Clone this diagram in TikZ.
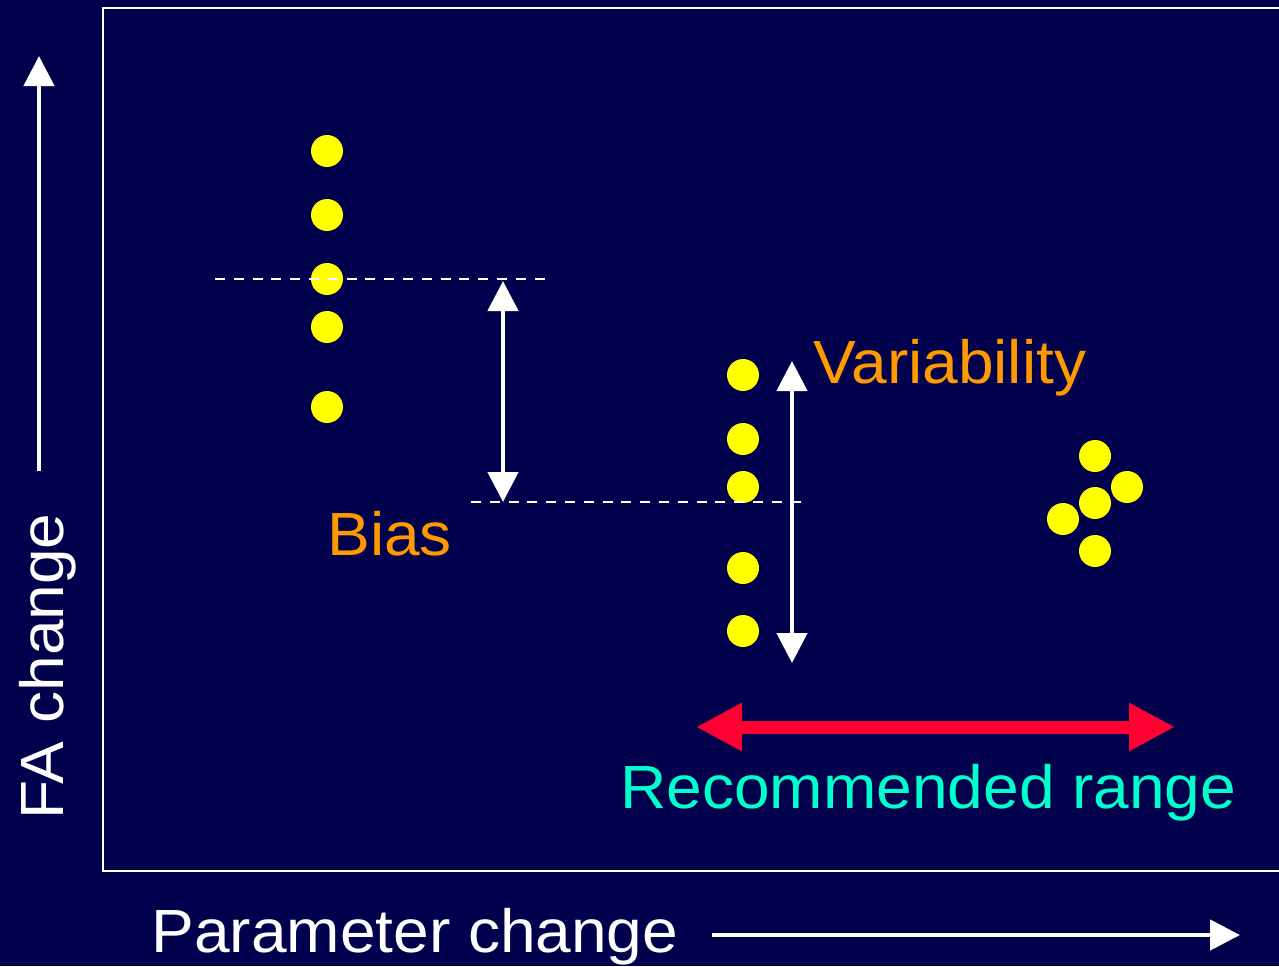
\documentclass[tikz,border=0pt]{standalone}
\usepackage{fontspec}
\setmainfont[FakeStretch=1.05]{Liberation Sans}
\usetikzlibrary{arrows.meta}

\definecolor{slidebg}{RGB}{0,0,77}
\definecolor{dotyellow}{RGB}{255,255,0}
\definecolor{textorange}{RGB}{255,153,0}
\definecolor{rangecyan}{RGB}{0,255,204}
\definecolor{rangered}{RGB}{255,0,51}

\tikzset{
  dot/.style={circle, fill=dotyellow, inner sep=0pt, minimum size=16pt},
  slidetext/.style={inner sep=0pt, anchor=base west, font=\fontsize{30.5}{36}\selectfont},
  guide/.style={white, line width=1.2pt, dash pattern=on 5pt off 4.4pt},
  whitearrow/.style={white, line width=2.3pt},
  whitetip/.tip={Triangle[length=15pt, width=15pt]},
  redtip/.tip={Triangle[length=23pt, width=22.5pt]},
}

\begin{document}
\begin{tikzpicture}[x=0.5pt, y=-0.5pt]
    % Slide background and plot frame
    \fill[slidebg] (0,0) rectangle (1279,966);
    \useasboundingbox (0,0) rectangle (1279,966);
    \draw[white, line width=1pt] (1290,8) -- (103,8) -- (103,871) -- (1290,871);

    % Dots: biased setting, spread setting, recommended setting
    \foreach \y [count=\i] in {151,215,279,327,407}
        \node[dot] (a\i) at (327,\y) {};
    \foreach \y [count=\i] in {375,439,487,568,631}
        \node[dot] (b\i) at (743,\y) {};
    \node[dot] (c1) at (1095,456) {};
    \node[dot] (c2) at (1127,487) {};
    \node[dot] (c3) at (1095,503) {};
    \node[dot] (c4) at (1063,519) {};
    \node[dot] (c5) at (1095,551) {};

    % Dashed mean levels
    \draw[guide] (215,279) -- (550,279);
    \draw[guide] (471,502) -- (806,502);

    % Bias and variability arrows
    \coordinate (biastop) at (503,281);
    \coordinate (biasbot) at (503,502);
    \draw[whitearrow, whitetip-whitetip] (biastop) -- (biasbot);
    \coordinate (vartop) at (792,361);
    \coordinate (varbot) at (792,663);
    \draw[whitearrow, whitetip-whitetip] (vartop) -- (varbot);

    % Recommended range
    \coordinate (rangeL) at (696,727);
    \coordinate (rangeR) at (1175,727);
    \draw[rangered, line width=6.5pt, redtip-redtip] (rangeL) -- (rangeR);

    % Axis arrows
    \coordinate (yfoot) at (39,471);
    \coordinate (yhead) at (39,56);
    \draw[whitearrow, -whitetip] (yfoot) -- (yhead);
    \coordinate (xfoot) at (712,935);
    \coordinate (xhead) at (1240,935);
    \draw[whitearrow, -whitetip] (xfoot) -- (xhead);

    % Labels
    \node[slidetext, textorange] (variability) at (813,383) {Variability};
    \node[slidetext, textorange] (bias) at (327,555) {Bias};
    \node[slidetext, rangecyan] (range) at (620,808) {Recommended range};
    \node[slidetext, white] (xlabel) at (151,952) {Parameter change};
    \node[slidetext, white, rotate=90] (ylabel) at (63,820) {FA change};
\end{tikzpicture}
\end{document}
